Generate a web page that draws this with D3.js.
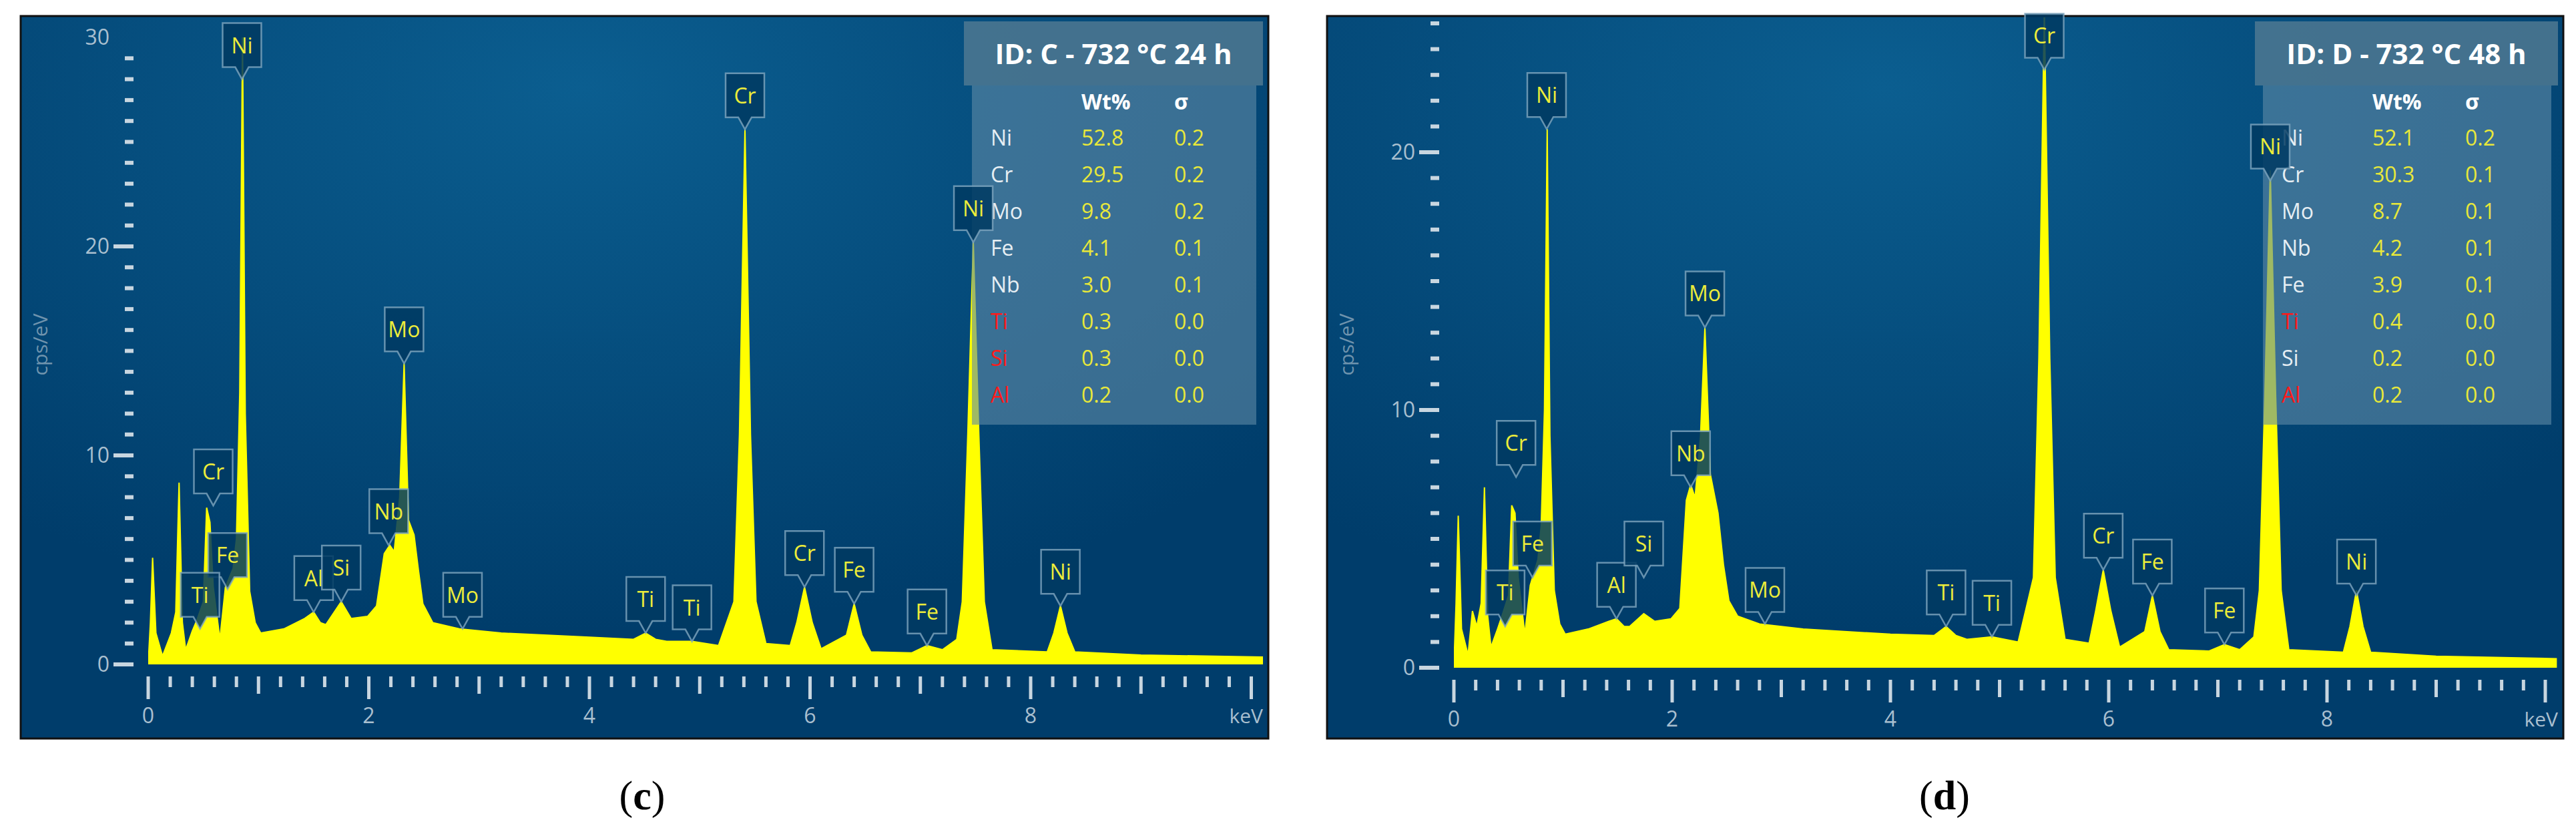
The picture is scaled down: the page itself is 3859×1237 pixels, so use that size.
<!DOCTYPE html>
<html>
<head>
<meta charset="utf-8">
<script src="https://cdn.jsdelivr.net/npm/d3@7"></script>
<style>
  body { margin: 0; background: #fff; }
  svg { display: block; }
</style>
</head>
<body>
<svg id="chart" width="3859" height="1237"></svg>
<script>
// spectra: [keV, cps/eV]
var spectrumC = [[0,0],[0.02,2],[0.04,5.1],[0.07,1.5],[0.13,0.4],[0.21,1.5],[0.25,2.5],[0.28,8.7],[0.31,2],[0.34,0.7],[0.4,1.6],[0.44,2.1],
  [0.5,3],[0.53,7.5],[0.56,6.8],[0.59,3.7],[0.65,1.2],[0.7,3.7],[0.77,4.6],[0.8,6],[0.83,13],[0.855,30],[0.88,12],[0.92,3.5],[0.97,2],[1.02,1.5],
  [1.23,1.7],[1.42,2.2],[1.5,2.5],[1.56,2.0],[1.61,1.9],[1.75,3.0],[1.84,2.2],[1.99,2.3],[2.07,2.8],[2.14,5.3],[2.19,5.7],[2.23,5.4],
  [2.28,8],[2.32,14.4],[2.36,6.9],[2.41,6.2],[2.45,4.5],[2.49,2.9],[2.58,2.0],[2.82,1.7],[3.2,1.5],[4.0,1.3],[4.4,1.2],[4.51,1.5],[4.6,1.2],
  [4.7,1.1],[4.93,1.1],[5.17,0.9],[5.31,3],[5.36,11],[5.41,25.6],[5.46,11],[5.51,3],[5.6,1.0],[5.82,0.9],[5.88,2],[5.95,3.7],[6.02,2],
  [6.1,0.75],[6.33,1.4],[6.4,2.9],[6.47,1.4],[6.55,0.6],[6.92,0.55],[7.06,0.9],[7.2,0.7],[7.33,1.2],[7.38,3],[7.43,11],[7.48,20.2],
  [7.53,11],[7.58,3],[7.65,0.7],[8.15,0.6],[8.21,1.5],[8.27,2.8],[8.33,1.5],[8.4,0.6],[9,0.45],[10.1,0.35]];

var spectrumD = [[0,0],[0.02,2.5],[0.04,5.9],[0.07,1.5],[0.13,0.5],[0.17,2.2],[0.21,1.6],[0.25,2.5],[0.28,7.0],[0.31,2],[0.34,0.8],[0.4,1.5],[0.44,2.0],
  [0.5,2.8],[0.53,6.3],[0.56,6.0],[0.59,3.5],[0.65,1.3],[0.7,3.2],[0.77,4.2],[0.8,5.5],[0.83,10],[0.855,20.9],[0.88,9],[0.92,3],[0.97,1.7],[1.02,1.3],
  [1.23,1.5],[1.42,1.8],[1.49,1.9],[1.56,1.6],[1.61,1.6],[1.74,2.1],[1.84,1.8],[1.99,1.9],[2.07,2.3],[2.13,6.5],[2.17,7.1],[2.21,6.6],
  [2.26,9],[2.3,13.2],[2.35,7.5],[2.42,6.0],[2.47,4],[2.52,2.6],[2.6,2.0],[2.8,1.7],[3.2,1.5],[4.0,1.3],[4.4,1.25],[4.51,1.6],[4.6,1.25],
  [4.7,1.1],[4.93,1.2],[5.17,1.0],[5.31,3.5],[5.36,12],[5.41,25.5],[5.46,12],[5.51,3.5],[5.6,1.1],[5.82,0.95],[5.88,2.2],[5.95,3.8],[6.02,2.2],
  [6.1,0.8],[6.33,1.4],[6.4,2.8],[6.47,1.4],[6.55,0.7],[6.92,0.65],[7.06,0.9],[7.2,0.7],[7.33,1.2],[7.38,3],[7.43,10.5],[7.48,19.3],
  [7.53,10.5],[7.58,3],[7.65,0.7],[8.15,0.6],[8.21,1.6],[8.27,3.0],[8.33,1.6],[8.4,0.6],[9,0.45],[10.1,0.35]];

// peak labels: [element, keV, cps at pointer tip]
var labelsC = [["Ni",0.85,28],["Cr",0.59,7.6],["Fe",0.72,3.6],["Ti",0.47,1.7],["Al",1.5,2.5],["Si",1.75,3.0],["Nb",2.18,5.7],
  ["Mo",2.32,14.4],["Mo",2.85,1.7],["Ti",4.51,1.5],["Ti",4.93,1.1],["Cr",5.41,25.6],["Cr",5.95,3.7],["Fe",6.40,2.9],
  ["Fe",7.06,0.9],["Ni",7.48,20.2],["Ni",8.27,2.8]];
var labelsD = [["Ni",0.85,20.9],["Cr",0.57,7.4],["Fe",0.72,3.5],["Ti",0.47,1.6],["Al",1.49,1.9],["Si",1.74,3.5],["Nb",2.17,7.0],
  ["Mo",2.3,13.2],["Mo",2.85,1.7],["Ti",4.51,1.6],["Ti",4.93,1.2],["Cr",5.41,23.2],["Cr",5.95,3.8],["Fe",6.40,2.8],
  ["Fe",7.06,0.9],["Ni",7.48,18.9],["Ni",8.27,2.8]];

// quantification tables
var elementsC = ["Ni","Cr","Mo","Fe","Nb","Ti","Si","Al"];
var wtC = ["52.8","29.5","9.8","4.1","3.0","0.3","0.3","0.2"];
var sigmaC = ["0.2","0.2","0.2","0.1","0.1","0.0","0.0","0.0"];
var flaggedC = ["Ti","Si","Al"];
var elementsD = ["Ni","Cr","Mo","Nb","Fe","Ti","Si","Al"];
var wtD = ["52.1","30.3","8.7","4.2","3.9","0.4","0.2","0.2"];
var sigmaD = ["0.2","0.1","0.1","0.1","0.1","0.0","0.0","0.0"];
var flaggedD = ["Ti","Al"];

var xTicks = [0, 2, 4, 6, 8];
var yTicksC = [0, 10, 20, 30];
var yTicksD = [0, 10, 20];

var svg = d3.select("#chart");
var defs = svg.append("defs");
var grad = defs.append("radialGradient").attr("id", "bg")
    .attr("cx", "0.45").attr("cy", "0.1").attr("r", "0.75");
grad.append("stop").attr("offset", "0").attr("stop-color", "#0b5e90");
grad.append("stop").attr("offset", "1").attr("stop-color", "#003d6b");

function panel(o) {
    var g = svg.append("g");
    g.append("rect").attr("x", o.left).attr("y", 24).attr("width", o.right - o.left).attr("height", 1082)
        .attr("fill", "url(#bg)").attr("stroke", "#111").attr("stroke-width", 3);

    var x = d3.scaleLinear().domain([0, 8]).range([o.x0, o.x8]);
    var y = d3.scaleLinear().domain([0, 10]).range([o.y0, o.y10]);
    var xMax = x.invert(o.right - 4);

    var clipId = "clip" + o.name;
    defs.append("clipPath").attr("id", clipId).append("rect")
        .attr("x", o.x0).attr("y", 26).attr("width", o.right - 4 - o.x0).attr("height", o.y0 - 26);

    // y ticks
    var yMax = y.invert(o.yTop);
    d3.range(0, Math.floor(yMax) + 1).forEach(function (v) {
        var major = v % 10 === 0;
        g.append("line").attr("x1", major ? o.x0 - 52 : o.x0 - 35).attr("x2", o.x0 - 22)
            .attr("y1", y(v)).attr("y2", y(v))
            .attr("stroke", "#c8d6e0").attr("stroke-width", 6);
    });
    o.yTicks.forEach(function (v) {
        g.append("text").attr("x", o.x0 - 58).attr("y", y(v) + 11).attr("text-anchor", "end")
            .attr("font-family", "Open Sans").attr("font-size", 32).attr("fill", "#a9bfcf").text(v);
    });
    g.append("text").attr("transform", "translate(" + (o.left + 40) + ",516) rotate(-90)")
        .attr("text-anchor", "middle").attr("font-family", "Open Sans").attr("font-size", 30)
        .attr("fill", "#6f93ad").text("cps/eV");

    // x ticks
    d3.range(0, 51).forEach(function (i) {
        var v = i * 0.2;
        if (v > xMax) return;
        var major = i % 10 === 0, mid = i % 5 === 0;
        g.append("line").attr("x1", x(v)).attr("x2", x(v))
            .attr("y1", o.y0 + 18).attr("y2", o.y0 + (major ? 52 : mid ? 44 : 34))
            .attr("stroke", "#c8d6e0").attr("stroke-width", 5);
    });
    xTicks.forEach(function (v) {
        g.append("text").attr("x", x(v)).attr("y", o.y0 + 88).attr("text-anchor", "middle")
            .attr("font-family", "Open Sans").attr("font-size", 32).attr("fill", "#a9bfcf").text(v);
    });
    g.append("text").attr("x", o.right - 8).attr("y", o.y0 + 88).attr("text-anchor", "end")
        .attr("font-family", "Open Sans").attr("font-size", 30).attr("fill", "#a9bfcf").text("keV");

    // spectrum
    var area = d3.area().x(function (d) { return x(d[0]); })
        .y0(o.y0).y1(function (d) { return y(d[1]); });
    g.append("path").datum(o.spectrum).attr("clip-path", "url(#" + clipId + ")")
        .attr("d", area).attr("fill", "#ffff00").attr("stroke", "#ffff00").attr("stroke-width", 2);

    // quant table
    var tx = o.tableLeft, tw = o.right - 8 - tx;
    g.append("rect").attr("x", tx + 12).attr("y", 128).attr("width", tw - 22).attr("height", 508)
        .attr("fill", "#5f8aa6").attr("fill-opacity", 0.6);
    g.append("rect").attr("x", tx).attr("y", 32).attr("width", tw).attr("height", 96)
        .attr("fill", "#4a7590").attr("fill-opacity", 0.9);
    g.append("text").attr("x", tx + tw / 2).attr("y", 96).attr("text-anchor", "middle")
        .attr("font-family", "Open Sans").attr("font-weight", "bold").attr("font-size", 42)
        .attr("fill", "#fff").text(o.title);
    var cEl = tx + 40, cWt = tx + 176, cSg = tx + 315;
    g.append("text").attr("x", cWt).attr("y", 164).attr("font-family", "Open Sans").attr("font-weight", "bold")
        .attr("font-size", 32).attr("fill", "#fff").text("Wt%");
    g.append("text").attr("x", cSg).attr("y", 164).attr("font-family", "Open Sans").attr("font-weight", "bold")
        .attr("font-size", 32).attr("fill", "#fff").text("σ");
    o.elements.forEach(function (el, i) {
        var ty = 218 + i * 55;
        g.append("text").attr("x", cEl).attr("y", ty).attr("font-family", "Open Sans").attr("font-size", 32)
            .attr("fill", o.flagged.indexOf(el) >= 0 ? "#ff1a1a" : "#e6eef3").text(el);
        g.append("text").attr("x", cWt).attr("y", ty).attr("font-family", "Open Sans").attr("font-size", 32)
            .attr("fill", "#e8e83a").text(o.wt[i]);
        g.append("text").attr("x", cSg).attr("y", ty).attr("font-family", "Open Sans").attr("font-size", 32)
            .attr("fill", "#e8e83a").text(o.sigma[i]);
    });

    // peak labels
    o.labels.forEach(function (l) {
        var px = x(l[1]), py = y(l[2]);
        var bw = 58, bh = 66, pt = 18, by = py - pt - bh;
        var d = "M" + (px - bw / 2) + "," + by + "h" + bw + "v" + bh + "h" + (-(bw / 2 - 10)) +
            "l-10," + pt + "l-10," + (-pt) + "h" + (-(bw / 2 - 10)) + "Z";
        g.append("path").attr("d", d).attr("fill", "#003a62").attr("fill-opacity", 0.85)
            .attr("stroke", "#7fa6bf").attr("stroke-opacity", 0.8).attr("stroke-width", 2.5);
        g.append("text").attr("x", px).attr("y", by + bh / 2 + 12).attr("text-anchor", "middle")
            .attr("font-family", "Open Sans").attr("font-size", 32).attr("fill", "#ecec3a").text(l[0]);
    });

    svg.append("text").attr("x", o.caption).attr("y", 1212).attr("text-anchor", "middle")
        .attr("font-family", "Liberation Serif").attr("font-size", 62).attr("fill", "#000")
        .html("(<tspan font-weight='bold'>" + o.name + "</tspan>)");
}

panel({ name: "c", left: 31, right: 1900, x0: 222, x8: 1544, y0: 995, y10: 682, yTop: 58, yTicks: yTicksC,
    spectrum: spectrumC, labels: labelsC, tableLeft: 1444, title: "ID: C - 732 °C 24 h",
    elements: elementsC, wt: wtC, sigma: sigmaC, flagged: flaggedC, caption: 962 });
panel({ name: "d", left: 1988, right: 3840, x0: 2178, x8: 3486, y0: 1000, y10: 614, yTop: 30, yTicks: yTicksD,
    spectrum: spectrumD, labels: labelsD, tableLeft: 3378, title: "ID: D - 732 °C 48 h",
    elements: elementsD, wt: wtD, sigma: sigmaD, flagged: flaggedD, caption: 2913 });
</script>
</body>
</html>
